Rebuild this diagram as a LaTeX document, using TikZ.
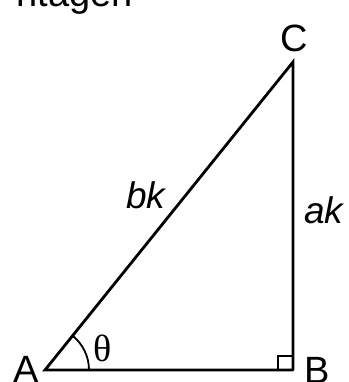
\documentclass[tikz,border=0pt]{standalone}
\usepackage{fontspec}
\setmainfont{Liberation Sans}
\newfontfamily\grk{Liberation Serif}
\begin{document}
\begin{tikzpicture}[x=1pt,y=-1pt,
  side/.style={line width=2.8pt, line cap=round, line join=miter},
  lbl/.style={font=\fontsize{38}{38}\selectfont, inner sep=0pt},
  ilbl/.style={font=\fontsize{37}{37}\selectfont\itshape, inner sep=0pt}]
\useasboundingbox (0,0) rectangle (348,382);
\fill[white] (0,0) rectangle (348,382);
\coordinate (A) at (45,370);
\coordinate (B) at (293,370);
\coordinate (C) at (293,62);
\draw[side] (B) -- (A) -- (C) -- (B);
\draw[line width=1.6pt] ([xshift=-15pt]B) -- ++(0,-14) -- ++(15,0);
\draw[line width=1.8pt] ([xshift=44pt]A) arc[start angle=0, end angle=-51.2, radius=44];
\node[lbl, anchor=base] (lA) at (26,382) {A};
\node[lbl, anchor=base] (lB) at (317,383) {B};
\node[lbl, anchor=base] (lC) at (294,52) {C};
\node[ilbl, anchor=base west] (lbk) at (126,208) {bk};
\node[ilbl, anchor=base west] (lak) at (304,223) {ak};
\node[inner sep=0pt, font=\fontsize{38}{38}\selectfont\grk] (th) at (103,348) {θ};
\node[lbl, anchor=base east] (title) at (133,7) {ntagen};
\end{tikzpicture}
\end{document}
